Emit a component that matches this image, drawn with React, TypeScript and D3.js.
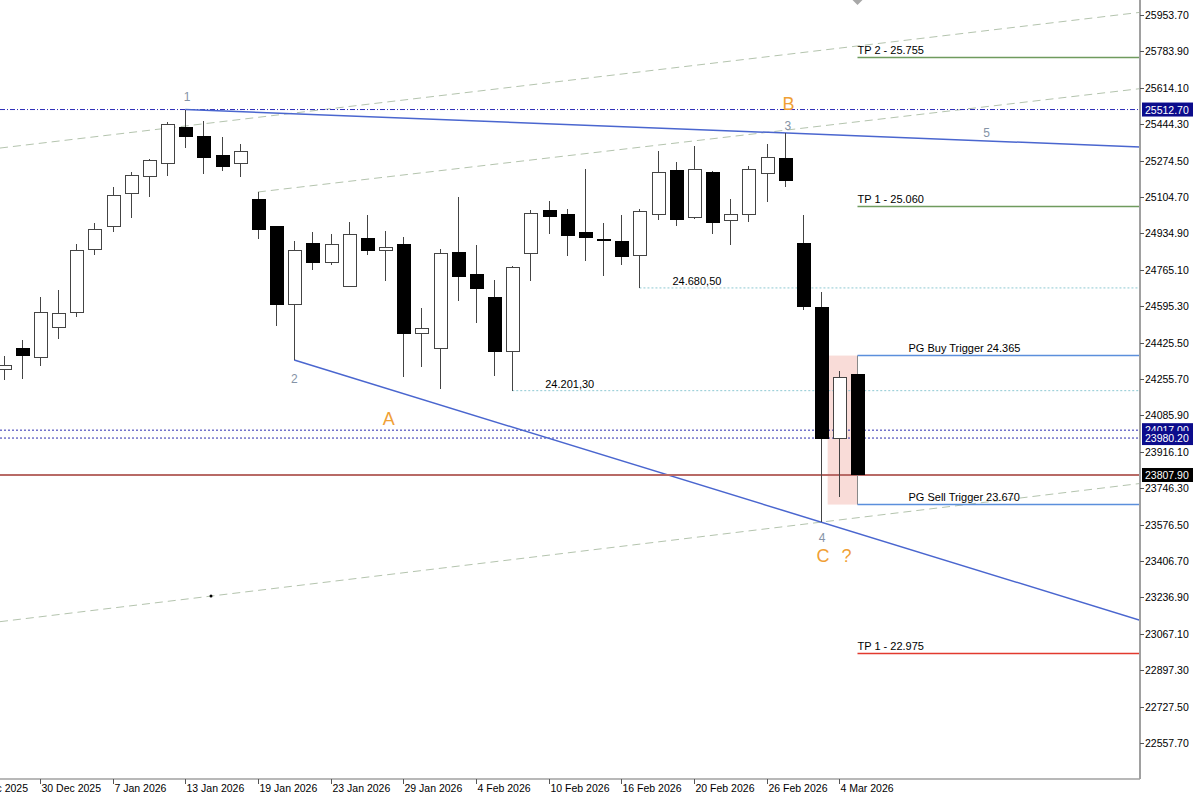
import React from "react";
import * as d3 from "d3";

// ---- data ----
const opens = [24298, 24396, 24358, 24498, 24564, 24862, 24965, 25119, 25198, 25263, 25427, 25385, 25296, 25259, 25095, 24965, 24601, 24890, 24801, 24689, 24909, 24857, 24885, 24466, 24396, 24848, 24741, 24638, 24386, 24839, 25044, 25021, 24941, 24906, 24895, 24834, 25025, 25226, 25007, 25221, 24993, 25025, 25212, 25282, 24890, 24587, 23980.2, 24279];
const highs = [24363, 24438, 24638, 24671, 24885, 24983, 25151, 25221, 25282, 25455, 25512.7, 25459, 25385, 25352, 25128, 24970, 24899, 24941, 24932, 24988, 25021, 24946, 24918, 24587, 24862, 25105, 24881, 24717, 24783, 25044, 25086, 25049, 25235, 24983, 25021, 25049, 25319, 25268, 25343, 25226, 25095, 25249, 25352, 25403, 25021, 24662, 24293, 24279];
const lows = [24251, 24256, 24316, 24442, 24545, 24834, 24941, 25007, 25105, 25203, 25333, 25212, 25226, 25198, 24909, 24503, 24344, 24764, 24787, 24685, 24834, 24713, 24265, 24312, 24209, 24620, 24517, 24270, 24201.3, 24713, 24932, 24829, 24806, 24736, 24787, 24680.5, 24997, 24969, 25002, 24932, 24881, 24988, 25081, 25151, 24578, 23588, 23705, 23807.9];
const closes = [24321, 24363, 24568, 24559, 24857, 24955, 25114, 25203, 25277, 25441, 25385, 25287, 25249, 25319, 24951, 24601, 24853, 24801, 24885, 24932, 24853, 24871, 24466, 24489, 24843, 24736, 24676, 24386, 24778, 25030, 25016, 24923, 24918, 24903, 24825, 25035, 25221, 25002, 25235, 24988, 25021, 25231, 25291, 25184, 24592, 23980.2, 24265, 23807.9];

const priceTicks = [25953.7, 25783.9, 25614.1, 25444.3, 25274.5, 25104.7, 24934.9, 24765.1, 24595.3, 24425.5, 24255.7, 24085.9, 23916.1, 23746.3, 23576.5, 23406.7, 23236.9, 23067.1, 22897.3, 22727.5, 22557.7];
const priceTickLabels = ["25953.70", "25783.90", "25614.10", "25444.30", "25274.50", "25104.70", "24934.90", "24765.10", "24595.30", "24425.50", "24255.70", "24085.90", "23916.10", "23746.30", "23576.50", "23406.70", "23236.90", "23067.10", "22897.30", "22727.50", "22557.70"];

const dateLabels = ["19 Dec 2025", "30 Dec 2025", "7 Jan 2026", "13 Jan 2026", "19 Jan 2026", "23 Jan 2026", "29 Jan 2026", "4 Feb 2026", "10 Feb 2026", "16 Feb 2026", "20 Feb 2026", "26 Feb 2026", "4 Mar 2026"];
const dateLabelIdx = [-2, 2, 6, 10, 14, 18, 22, 26, 30, 34, 38, 42, 46];

// wave trend lines: [index, price] pairs
const waveLineA = [[10, 25512.7], [43, 25403.2]];
const waveLineB = [[16, 24344], [45, 23588]];
// channel (dashed) lines
const channelUpper = [[0, 25335], [45, 25789]];
const channelMid = [[14, 25128], [43, 25416]];
const channelLower = [[11.42, 23243], [45, 23588]];
const channelDot = [11.42, 23243];

// horizontal levels
const markedHigh = 25512.7;
const prevCloses = [24017.0, 23980.2];
const lastClose = 23807.9;
const supportLevels = [{ idx: 35, price: 24680.5, text: "24.680,50" }, { idx: 28, price: 24201.3, text: "24.201,30" }];
const tpLevels = [
  { price: 25755, text: "TP 2 - 25.755", color: "#6f9b5e" },
  { price: 25060, text: "TP 1 - 25.060", color: "#6f9b5e" },
  { price: 22975, text: "TP 1 - 22.975", color: "#e23a2e" },
];
const buyTrigger = 24365;
const sellTrigger = 23670;

const waveNums = [
  { idx: 10, price: 25512.7, t: "1", dx: 2, dy: -9 },
  { idx: 16, price: 24344, t: "2", dx: 0, dy: 23 },
  { idx: 43, price: 25403.2, t: "3", dx: 3, dy: -3 },
  { idx: 45, price: 23588, t: "4", dx: 1, dy: 20 },
  { idx: 54.1, price: 25383, t: "5", dx: 0, dy: 0 },
];
const waveLetters = [
  { idx: 21.2, price: 24040, t: "A" },
  { idx: 43.2, price: 25512.7, t: "B" },
  { idx: 45.1, price: 23402, t: "C" },
  { idx: 46.4, price: 23402, t: "?" },
];

const W = 1200;
const H = 798;
const PLOT_R = 1140;
const PLOT_B = 779;

export default function App() {
  const x = d3.scaleLinear().domain([0, 47]).range([3.5, 3.5 + 47 * 18.17]);
  const y = d3.scaleLinear().domain([25953.7, 22557.7]).range([15, 743]);

  const extend = (pts: number[][], fromX?: number) => {
    const [a, b] = pts;
    const x1 = x(a[0]), y1 = y(a[1]), x2 = x(b[0]), y2 = y(b[1]);
    const k = (y2 - y1) / (x2 - x1);
    const sx = fromX === undefined ? x1 : fromX;
    return { x1: sx, y1: y1 + (sx - x1) * k, x2: PLOT_R, y2: y1 + (PLOT_R - x1) * k };
  };

  const font = "'Liberation Sans', Arial, sans-serif";
  const bodyW = 13;

  const lu = extend(channelUpper, 0);
  const lm = extend(channelMid);
  const ll = extend(channelLower, 0);
  const wa = extend(waveLineA);
  const wb = extend(waveLineB);

  const xr = x(47);

  return (
    <svg width={W} height={H} style={{ position: "absolute", left: 0, top: 0, background: "#fff" }} fontFamily={font}>
      <rect x={0} y={0} width={W} height={H} fill="#fff" />
      <defs>
        <clipPath id="plot"><rect x={0} y={0} width={PLOT_R} height={PLOT_B} /></clipPath>
        <clipPath id="full"><rect x={0} y={0} width={W} height={H} /></clipPath>
      </defs>
      <g clipPath="url(#plot)">
        {/* pink box */}
        <rect x={x(45) + bodyW / 2} y={y(buyTrigger)} width={xr - x(45) - bodyW / 2} height={y(sellTrigger) - y(buyTrigger)} fill="#f9dcd8" />
        {/* channel dashed lines */}
        {[lu, lm, ll].map((l, i) => (
          <line key={"c" + i} {...l} stroke="#b4c4ae" strokeWidth={1} strokeDasharray="8 5" />
        ))}
        <circle cx={x(channelDot[0])} cy={y(channelDot[1])} r={1.5} fill="#000" />
        {/* marked high */}
        <line x1={0} x2={PLOT_R} y1={y(markedHigh)} y2={y(markedHigh)} stroke="#2c2cb8" strokeWidth={1} strokeDasharray="5 2 1 2" />
        {prevCloses.map((p, i) => (
          <line key={"pc" + i} x1={0} x2={PLOT_R} y1={y(p)} y2={y(p)} stroke="#2c2cb0" strokeWidth={1} strokeDasharray="2 2" />
        ))}
        {supportLevels.map((s, i) => (
          <g key={"s" + i}>
            <line x1={x(s.idx)} x2={PLOT_R} y1={y(s.price)} y2={y(s.price)} stroke="#8fc9d3" strokeWidth={1} strokeDasharray="2 2" />
            <text x={x(s.idx) + 33} y={y(s.price) - 3} fontSize={11} fill="#000">{s.text}</text>
          </g>
        ))}
        {/* wave trend lines */}
        <line {...wa} stroke="#4a66cf" strokeWidth={1.5} />
        <line {...wb} stroke="#4a66cf" strokeWidth={1.5} />
        {/* last close */}
        <line x1={0} x2={PLOT_R} y1={y(lastClose)} y2={y(lastClose)} stroke="#b86a66" strokeWidth={2} />
        {/* TP levels */}
        {tpLevels.map((t, i) => (
          <g key={"tp" + i}>
            <line x1={xr} x2={PLOT_R} y1={y(t.price)} y2={y(t.price)} stroke={t.color} strokeWidth={1.5} />
            <text x={xr} y={y(t.price) - 4} fontSize={11} fill="#000">{t.text}</text>
          </g>
        ))}
        {/* PG triggers */}
        <line x1={xr} x2={xr} y1={y(buyTrigger)} y2={y(sellTrigger)} stroke="#888" strokeWidth={1} />
        <line x1={xr} x2={PLOT_R} y1={y(buyTrigger)} y2={y(buyTrigger)} stroke="#5b8fdc" strokeWidth={1.5} />
        <line x1={xr} x2={PLOT_R} y1={y(sellTrigger)} y2={y(sellTrigger)} stroke="#5b8fdc" strokeWidth={1.5} />
        <text x={xr + 51} y={y(buyTrigger) - 4} fontSize={11} fill="#000">PG Buy Trigger 24.365</text>
        <text x={xr + 51} y={y(sellTrigger) - 4} fontSize={11} fill="#000">PG Sell Trigger 23.670</text>
        {/* candles */}
        <g shapeRendering="crispEdges">
          {opens.map((o, i) => {
            const c = closes[i];
            const cx = Math.round(x(i)) + 0.5;
            const top = y(Math.max(o, c));
            const bot = y(Math.min(o, c));
            const up = c >= o;
            return (
              <g key={i}>
                <line x1={cx} x2={cx} y1={y(highs[i])} y2={y(lows[i])} stroke="#444" strokeWidth={1} />
                <rect x={cx - bodyW / 2} y={top} width={bodyW} height={Math.max(1, bot - top)} fill={up ? "#fff" : "#000"} stroke={up ? "#444" : "#000"} strokeWidth={1} />
              </g>
            );
          })}
        </g>
        {/* wave labels */}
        {waveNums.map((w, i) => (
          <text key={"n" + i} x={x(w.idx) + w.dx} y={y(w.price) + w.dy} fontSize={12} fill="#8593a6" textAnchor="middle">{w.t}</text>
        ))}
        {waveLetters.map((w, i) => (
          <text key={"l" + i} x={x(w.idx)} y={y(w.price)} fontSize={18} fill="#f0a035" textAnchor="middle">{w.t}</text>
        ))}
        {/* top marker */}
        <path d={`M${xr},${-7} L${xr + 6},${-1} L${xr},${5} L${xr - 6},${-1} Z`} fill="#a8a8a8" />
      </g>

      {/* right axis */}
      <line x1={PLOT_R} x2={PLOT_R} y1={0} y2={PLOT_B} stroke="#a0a0a0" strokeWidth={2} />
      {priceTicks.map((p, i) => (
        <g key={"pt" + i}>
          <line x1={PLOT_R} x2={PLOT_R + 4} y1={Math.round(y(p)) + 0.5} y2={Math.round(y(p)) + 0.5} stroke="#555" />
          <text x={PLOT_R + 5} y={y(p) + 4} fontSize={10.5} fill="#000">{priceTickLabels[i]}</text>
        </g>
      ))}
      {/* value boxes */}
      {[{ p: markedHigh, bg: "#0c0c8c" }, { p: prevCloses[0], bg: "#0c0c8c" }, { p: prevCloses[1], bg: "#0c0c8c" }, { p: lastClose, bg: "#000" }].map((b, i) => (
        <g key={"vb" + i}>
          <rect x={PLOT_R + 2} y={y(b.p) - 7} width={51} height={14} fill={b.bg} />
          <text x={PLOT_R + 5} y={y(b.p) + 4} fontSize={10.5} fill="#fff">{b.p.toFixed(2)}</text>
        </g>
      ))}

      {/* bottom axis */}
      <line x1={0} x2={PLOT_R} y1={PLOT_B} y2={PLOT_B} stroke="#a0a0a0" strokeWidth={1.5} />
      <g clipPath="url(#full)">
        {dateLabels.map((d, i) => {
          const tx = Math.round(x(dateLabelIdx[i])) + 0.5;
          return (
            <g key={"d" + i}>
              <line x1={tx} x2={tx} y1={PLOT_B} y2={PLOT_B + 5} stroke="#555" />
              <text x={tx + 1} y={PLOT_B + 13} fontSize={10.5} fill="#000">{d}</text>
            </g>
          );
        })}
      </g>
    </svg>
  );
}
